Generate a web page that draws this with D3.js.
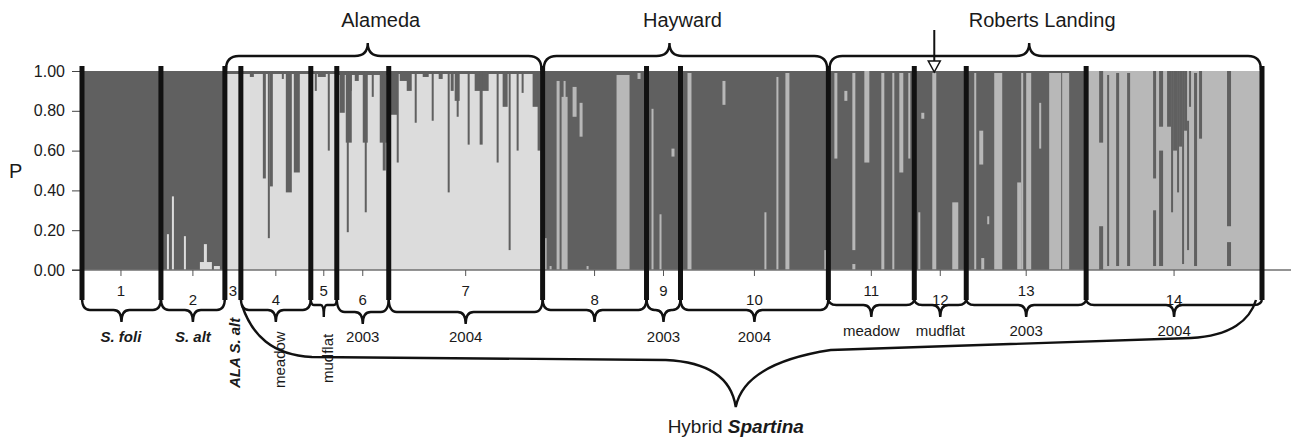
<!DOCTYPE html>
<html>
<head>
<meta charset="utf-8">
<title>Spartina STRUCTURE plot</title>
<script src="https://d3js.org/d3.v7.min.js"></script>
<style>
  body { margin: 0; background: #fff; }
  svg text { font-family: "Liberation Sans", Arial, sans-serif; fill: #1a1a1a; }
  .sep { stroke: #111; stroke-width: 5; }
  .brace { fill: none; stroke: #111; stroke-width: 2.4; }
</style>
</head>
<body>
<div id="chart"></div>
<script>
// populations, number of individuals and the cluster most of them belong to
const groupIds   = ["1","2","3","4","5","6","7","8","9","10","11","12","13","14"];
const groupSizes = [40, 32, 8, 35, 13, 26, 77, 52, 17, 74, 43, 26, 60, 88];
const groupBase  = ["D","D","L","L","L","L","L","D","D","D","D","D","D","M"];
const groupNotes = ["S. foli","S. alt","ALA S. alt","meadow","mudflat","2003","2004","","2003","2004","meadow","mudflat","2003","2004"];
const italicNotes  = [1, 2, 3];
const rotatedNotes = [3, 4, 5];

const sites      = ["Alameda", "Hayward", "Roberts Landing"];
const siteGroups = [[3, 7], [8, 10], [11, 14]];
const hybridGroups = [4, 14];
const arrowIndividual = 427;

const yTicks = [0, 0.2, 0.4, 0.6, 0.8, 1.0];

// admixed individuals: [group, index in group, width (individuals), cluster, q from, q to]
const admix = [
  [2, 3, 1, "L", 0, 0.18], [2, 5.5, 1, "L", 0, 0.37], [2, 11.5, 1, "L", 0, 0.17],
  [2, 19.5, 6, "L", 0, 0.04], [2, 21.5, 1.5, "L", 0, 0.13], [2, 26.5, 3, "L", 0, 0.02],

  [3, 0, 8, "D", 0.985, 1],

  [4, 0, 35, "D", 0.985, 1], [4, 4.5, 2, "D", 0.97, 1], [4, 11, 1.5, "D", 0.46, 1],
  [4, 13.5, 1, "D", 0.16, 1], [4, 14.5, 1.5, "D", 0.42, 1], [4, 20.5, 1, "D", 0.96, 1],
  [4, 22.5, 3, "D", 0.39, 1], [4, 26.5, 3, "D", 0.49, 1],

  [5, 0, 13, "D", 0.985, 1], [5, 2, 1, "D", 0.9, 1], [5, 3.5, 4, "D", 0.97, 1],
  [5, 8.5, 1, "D", 0.6, 1],

  [6, 0, 26, "D", 0.98, 1], [6, 1.5, 2.5, "D", 0.79, 1], [6, 4.5, 3, "D", 0.64, 1],
  [6, 5, 1, "D", 0.19, 1], [6, 6.5, 1, "D", 0.9, 1], [6, 9, 2, "D", 0.95, 1],
  [6, 13, 2.5, "D", 0.64, 1], [6, 14, 1, "D", 0.29, 1], [6, 17.5, 1, "D", 0.87, 1],
  [6, 21.5, 3.5, "D", 0.64, 1], [6, 23, 1.5, "D", 0.5, 1],

  [7, 0, 77, "D", 0.985, 1], [7, 0.5, 4, "D", 0.78, 1], [7, 4, 1, "D", 0.54, 1],
  [7, 5.5, 5, "D", 0.95, 1], [7, 9, 2.5, "D", 0.9, 1], [7, 13, 1, "D", 0.74, 1],
  [7, 17, 3, "D", 0.97, 1], [7, 21.5, 1, "D", 0.75, 1], [7, 25, 2, "D", 0.96, 1],
  [7, 29.5, 1, "D", 0.39, 1], [7, 31, 1.5, "D", 0.9, 1], [7, 33, 2.5, "D", 0.85, 1],
  [7, 34, 1, "D", 0.77, 1], [7, 39.5, 1, "D", 0.63, 1], [7, 43, 7, "D", 0.9, 1],
  [7, 45.5, 1.5, "D", 0.63, 1], [7, 54, 1, "D", 0.54, 1], [7, 57, 2.5, "D", 0.82, 1],
  [7, 60, 1, "D", 0.1, 1], [7, 64, 1, "D", 0.6, 1], [7, 66.5, 1, "D", 0.89, 1],
  [7, 72, 3.5, "D", 0.82, 1], [7, 74.5, 1.5, "D", 0.6, 1],

  [8, 0, 2, "M", 0, 0.16], [8, 3.5, 1, "M", 0, 0.02], [8, 7, 1.5, "M", 0, 0.95],
  [8, 9.5, 3, "M", 0, 0.87], [8, 10.5, 1, "M", 0, 0.95], [8, 15, 2, "M", 0.77, 0.92],
  [8, 18.5, 1.5, "M", 0.67, 0.84], [8, 22, 1, "M", 0, 0.02], [8, 37, 6.5, "M", 0, 0.98],
  [8, 47.5, 1.5, "M", 0.96, 0.99],

  [9, 2.5, 1, "M", 0, 0.81], [9, 6.5, 1, "M", 0, 0.28], [9, 12.5, 1.5, "M", 0.57, 0.61],

  [10, 3.5, 2, "M", 0, 0.99], [10, 21, 1.5, "M", 0.83, 0.95], [10, 42, 1, "M", 0, 0.29],
  [10, 48, 1, "M", 0, 0.97], [10, 52.5, 2, "M", 0, 0.99], [10, 72, 1, "M", 0, 0.1],

  [11, 3, 1.5, "M", 0.56, 0.99], [11, 8, 1.5, "M", 0.85, 0.9], [11, 12, 1.5, "M", 0.1, 0.99],
  [11, 12, 1.5, "M", 0, 0.03], [11, 18, 2.5, "M", 0.54, 1], [11, 26.5, 1.5, "M", 0, 0.99],
  [11, 32, 1, "M", 0, 0.99], [11, 35.5, 2, "M", 0.49, 0.99], [11, 40, 1, "M", 0.56, 0.99],

  [12, 2, 1, "M", 0, 0.29], [12, 3.5, 1.5, "M", 0.76, 0.79], [12, 9, 2, "M", 0, 0.99],
  [12, 19, 3, "M", 0, 0.34],

  [13, 4, 1, "M", 0, 0.99], [13, 6.5, 2, "M", 0.53, 0.7], [13, 7.5, 1.5, "M", 0, 0.06],
  [13, 10.5, 1, "M", 0.23, 0.27], [13, 14, 4, "M", 0, 0.99], [13, 25.5, 2, "M", 0, 0.44],
  [13, 27.5, 1, "M", 0, 0.99], [13, 30, 2.5, "M", 0, 0.99], [13, 36.5, 1, "M", 0.61, 0.84],
  [13, 41.5, 6, "M", 0, 0.99], [13, 48, 3.5, "M", 0, 0.99],

  [14, 6.5, 2, "D", 0.64, 1], [14, 6.5, 2, "D", 0, 0.22], [14, 10.5, 1, "D", 0.02, 0.98],
  [14, 15, 1.5, "D", 0.02, 0.99], [14, 20.5, 1.5, "D", 0.02, 0.99], [14, 33.5, 1.5, "D", 0.46, 1],
  [14, 33.5, 1.5, "D", 0.02, 0.3], [14, 36.5, 2, "D", 0.72, 1], [14, 36.5, 2, "D", 0.02, 0.6],
  [14, 40.5, 2, "D", 0.72, 1], [14, 42.5, 1, "D", 0.29, 1], [14, 43.5, 2, "D", 0.6, 1],
  [14, 45.5, 1, "D", 0.39, 1], [14, 46.5, 1.5, "D", 0.62, 1], [14, 48, 1, "D", 0.03, 1],
  [14, 49, 1.5, "D", 0.7, 1], [14, 50.5, 1, "D", 0.1, 0.75], [14, 51.5, 1, "D", 0.82, 1],
  [14, 54, 1.5, "D", 0.02, 0.99], [14, 56.5, 1.5, "D", 0.66, 1], [14, 70.5, 2, "D", 0.22, 1],
  [14, 70.5, 2, "D", 0.02, 0.14]
];

const clusterColor = { D: "#606060", M: "#b8b8b8", L: "#dcdcdc" };

const W = 1291, H = 440;
const svg = d3.select("#chart").append("svg")
  .attr("width", W).attr("height", H);

// group boundaries in individuals
const starts = [0];
groupSizes.forEach(n => starts.push(starts[starts.length - 1] + n));
const total = starts[starts.length - 1];

const x = d3.scaleLinear().domain([0, total]).range([81, 1262]);
const y = d3.scaleLinear().domain([0, 1]).range([270, 71]);

const gx = i => x(starts[i - 1]);          // left edge of group i (1-based)
const gxe = i => x(starts[i]);             // right edge of group i
const gc = i => (gx(i) + gxe(i)) / 2;

// base bars
svg.append("g").selectAll("rect")
  .data(groupIds)
  .join("rect")
    .attr("x", (d, i) => x(starts[i]))
    .attr("width", (d, i) => x(starts[i + 1]) - x(starts[i]))
    .attr("y", y(1))
    .attr("height", y(0) - y(1))
    .attr("fill", (d, i) => clusterColor[groupBase[i]]);

// admixed individuals
svg.append("g").selectAll("rect")
  .data(admix)
  .join("rect")
    .attr("x", d => x(starts[d[0] - 1] + d[1]))
    .attr("width", d => x(d[2]) - x(0))
    .attr("y", d => y(d[5]))
    .attr("height", d => y(d[4]) - y(d[5]))
    .attr("fill", d => clusterColor[d[3]]);

// x baseline
svg.append("line")
  .attr("x1", 72).attr("x2", W)
  .attr("y1", y(0)).attr("y2", y(0))
  .attr("stroke", "#707070").attr("stroke-width", 1.3);

// group ticks below the axis
svg.append("g").selectAll("line")
  .data(groupIds.filter((d, i) => i !== 2))
  .join("line")
    .attr("x1", d => gc(+d)).attr("x2", d => gc(+d))
    .attr("y1", y(0)).attr("y2", y(0) + 6)
    .attr("stroke", "#555").attr("stroke-width", 1);

// y axis
const yAxis = d3.axisLeft(y).tickValues(yTicks).tickFormat(d3.format(".2f")).tickSize(8);
const ya = svg.append("g").attr("transform", "translate(80,0)").call(yAxis);
ya.select(".domain").remove();
ya.selectAll(".tick line").attr("stroke", "#444");
ya.selectAll(".tick text")
  .attr("x", -15)
  .style("font-size", "16px")
  .style("font-family", "\"Liberation Sans\", Arial, sans-serif")
  .attr("fill", "#222");

svg.append("text")
  .attr("x", 9).attr("y", 178)
  .style("font-size", "20px")
  .text("P");

// separators between populations
svg.append("g").selectAll("line")
  .data(starts)
  .join("line")
    .attr("class", "sep")
    .attr("x1", d => x(d) + (d === 0 ? 1 : 0))
    .attr("x2", d => x(d) + (d === 0 ? 1 : 0))
    .attr("y1", 66).attr("y2", 300);

// population numbers
svg.append("g").selectAll("text")
  .data(groupIds)
  .join("text")
    .attr("x", (d, i) => gc(i + 1))
    .attr("y", (d, i) => i % 2 === 0 ? 296 : 305)
    .attr("text-anchor", "middle")
    .style("font-size", "15px")
    .text(d => d);

// curly brace between x0 and x1, tip pointing from yLine to yTip
function brace(x0, x1, tip, yEnd, yLine, yTip, r) {
  return `M${x0},${yEnd} Q${x0},${yLine} ${x0 + r},${yLine} L${tip - r},${yLine} ` +
    `Q${tip},${yLine} ${tip},${yTip} Q${tip},${yLine} ${tip + r},${yLine} ` +
    `L${x1 - r},${yLine} Q${x1},${yLine} ${x1},${yEnd}`;
}

// braces under populations
const lower = svg.append("g");
groupIds.forEach((id, i) => {
  const g = i + 1;
  if (g === 3) return;
  const x0 = gx(g) + (g === 1 ? 1 : 0), x1 = gxe(g);
  const yl = g >= 11 || g === 5 ? 305 : (g === 6 || g === 7 ? 312 : 310);
  const r = g === 5 ? 3 : 8;
  lower.append("path").attr("class", "brace")
    .attr("d", brace(x0, x1, (x0 + x1) / 2, 298, yl, yl + 12, r));
});

// labels under braces
groupNotes.forEach((t, i) => {
  if (!t) return;
  const g = i + 1;
  const el = svg.append("text").style("font-size", "15px").text(t);
  if (italicNotes.includes(g)) el.style("font-weight", "bold").style("font-style", "italic");
  if (rotatedNotes.includes(g)) {
    const bx = g === 3 ? gxe(g) - 1 : gc(g) + 9;
    el.attr("text-anchor", "start")
      .attr("transform", `translate(${bx},${g === 5 ? 383 : 388}) rotate(-90)`);
  } else {
    el.attr("x", gc(g)).attr("y", g >= 11 ? 336 : 342).attr("text-anchor", "middle");
  }
});

// hybrid brace
const hx0 = gx(hybridGroups[0]) + 1, hx1 = gxe(hybridGroups[1]) - 6;
const htip = hx0 + 0.487 * (hx1 - hx0);
svg.append("path").attr("class", "brace")
  .attr("d", `M${hx0},305 C${hx0 + 10},335 ${hx0 + 30},355 ${hx0 + 70},357 ` +
    `L${htip - 70},360 C${htip - 25},362 ${htip - 4},380 ${htip},407 ` +
    `C${htip + 5},382 ${htip + 30},360 ${htip + 95},350 ` +
    `L${hx1 - 65},338 C${hx1 - 25},336 ${hx1 - 6},320 ${hx1},300`);

const ht = svg.append("text")
  .attr("x", htip).attr("y", 433)
  .attr("text-anchor", "middle")
  .style("font-size", "19px");
ht.append("tspan").text("Hybrid ");
ht.append("tspan").style("font-weight", "bold").style("font-style", "italic").text("Spartina");

// site braces and names on top
sites.forEach((s, i) => {
  const [a, b] = siteGroups[i];
  const x0 = gx(a) + 1, x1 = gxe(b) - 1;
  const c = (x0 + x1) / 2;
  svg.append("path").attr("class", "brace")
    .attr("d", brace(x0, x1, c - 16, 70, 56, 43, 13));
  svg.append("text")
    .attr("x", c - 3).attr("y", 27)
    .attr("text-anchor", "middle")
    .style("font-size", "20px")
    .text(s);
});

// arrow marking the mudflat sample
const ax = x(arrowIndividual);
svg.append("line")
  .attr("x1", ax).attr("x2", ax).attr("y1", 30).attr("y2", 61)
  .attr("stroke", "#111").attr("stroke-width", 2);
svg.append("path")
  .attr("d", `M${ax - 6},61 L${ax + 6},61 L${ax},72 Z`)
  .attr("fill", "#fff").attr("stroke", "#111").attr("stroke-width", 1.5);
</script>
</body>
</html>
